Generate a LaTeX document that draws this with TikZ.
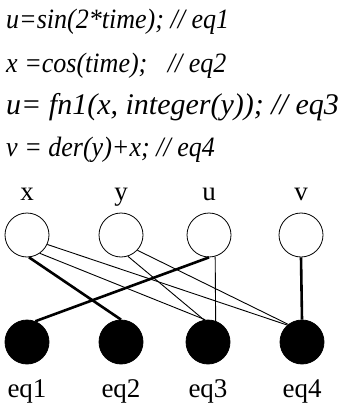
\documentclass[tikz,border=0pt]{standalone}
\usepackage{fontspec}
\setmainfont{Liberation Serif}
\usetikzlibrary{positioning}
\newcommand{\narrow}[1]{\scalebox{0.93}[1]{#1}}
\tikzset{
  code/.style={anchor=base west, inner sep=0pt, font=\fontsize{28}{32}\selectfont\itshape},
  lbl/.style={anchor=base, inner sep=0pt, font=\fontsize{27}{30}\selectfont},
  var/.style={circle, draw, line width=0.8pt, minimum size=44pt, inner sep=0pt},
  eqn/.style={circle, draw, fill=black, line width=0.8pt, minimum size=44pt, inner sep=0pt},
  weak/.style={line width=0.9pt},
  strong/.style={line width=2.6pt}
}
\begin{document}
\begin{tikzpicture}[x=1pt,y=-1pt]
        \useasboundingbox (0,0) rectangle (338,406);
        % Equation text
        \node[code] (l1) at (6,29) {\narrow{u=sin(2*time); // eq1}};
        \node[code] (l2) at (6,73) {\narrow{x =cos(time);\hspace{22pt}// eq2}};
        \node[code, font=\fontsize{30}{34}\selectfont\itshape] (l3) at (6,115) {u= fn1(x, integer(y)); // eq3};
        \node[code] (l4) at (6,157) {\narrow{v = der(y)+x; // eq4}};
        % Variable nodes
        \node[var] (x) at (27,235) {};
        \node[var] (y) at (121,235) {};
        \node[var] (u) at (209,235) {};
        \node[var] (v) at (301,235) {};
        \node[lbl] at (27,200) {x};
        \node[lbl] at (121,200) {y};
        \node[lbl] at (209,200) {u};
        \node[lbl] at (301,200) {v};
        % Equation nodes
        \node[eqn] (eq1) at (27,342) {};
        \node[eqn] (eq2) at (121,342) {};
        \node[eqn] (eq3) at (208,342) {};
        \node[eqn] (eq4) at (302,342) {};
        \node[lbl] at (27,397) {eq1};
        \node[lbl] at (121,397) {eq2};
        \node[lbl] at (208,397) {eq3};
        \node[lbl] at (302,397) {eq4};
        % Incidence edges
        \draw[weak] (x.-25) -- (eq4.131);
        \draw[weak] (x.-55) -- (eq3.97);
        \draw[weak] (y.-72) -- (eq3.100);
        \draw[weak] (y.-43) -- (eq4.128);
        \draw[weak] (u.-74) -- (eq3.70);
        % Matching
        \draw[strong] (x.-85) -- (eq2.north);
        \draw[strong] (u.south) -- (eq1.68);
        \draw[strong] (v.south) -- (eq4.north);
\end{tikzpicture}
\end{document}
